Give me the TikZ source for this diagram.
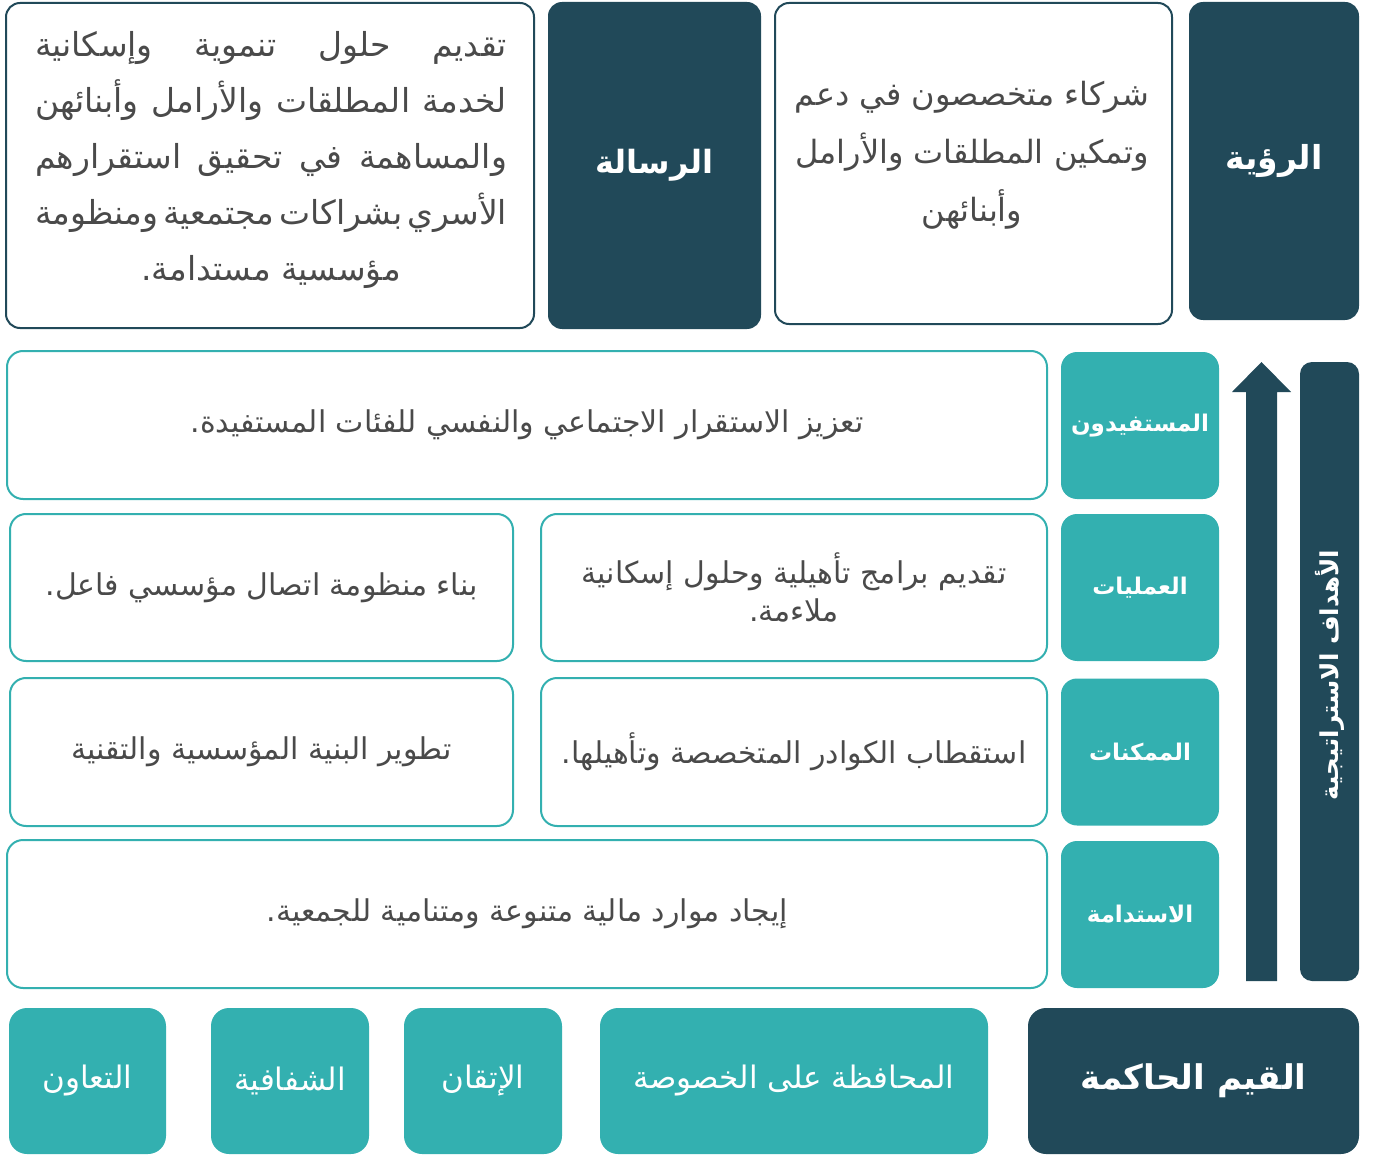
\documentclass[tikz,border=0pt]{standalone}
\usepackage{fontspec}
\newfontfamily\arabicfont[Script=Arabic]{DejaVu Sans}
\TeXXeTstate=1
\definecolor{deepteal}{HTML}{214959}
\definecolor{lightteal}{HTML}{33B0B0}
\definecolor{bodygrey}{HTML}{4A4A4A}
\newcommand{\ar}[1]{\beginR #1\endR}
\newcommand{\jline}[1]{\hbox to 236pt{\beginR #1\endR}}
\tikzset{
  outlinebox/.style={draw=deepteal, line width=1pt, fill=white, rounded corners=7pt, text=bodygrey,
    font=\arabicfont\fontsize{16.5}{28}\selectfont},
  darkbox/.style={fill=deepteal, rounded corners=7pt, text=white,
    font=\arabicfont\bfseries\fontsize{16}{20}\selectfont},
  goalbox/.style={draw=lightteal, line width=1pt, fill=white, rounded corners=8pt, text=bodygrey,
    font=\arabicfont\fontsize{15}{19}\selectfont},
  levelbox/.style={fill=lightteal, rounded corners=8pt, text=white,
    font=\arabicfont\bfseries\fontsize{11.5}{14}\selectfont, minimum width=79pt, minimum height=73.5pt},
  valuebox/.style={fill=lightteal, rounded corners=9pt, text=white,
    font=\arabicfont\fontsize{15.5}{18}\selectfont, minimum height=73pt}
}
\begin{document}
\begin{tikzpicture}[x=0.5pt, y=-0.5pt]
    \useasboundingbox (0,0) rectangle (1378,1156);

    % top row: mission and vision
    \node[outlinebox, minimum width=264pt, minimum height=162.5pt] (mission) at (270,165.5) {};
    \node[text=bodygrey, font=\arabicfont\fontsize{16.5}{28}\selectfont, align=center] (missiontext) at (271,160)
    {\jline{تقديم\hfill حلول\hfill تنموية\hfill وإسكانية}\\
     \jline{لخدمة\hfill المطلقات\hfill والأرامل\hfill وأبنائهن}\\
     \jline{والمساهمة\hfill في\hfill تحقيق\hfill استقرارهم}\\
     \jline{الأسري\hfill بشراكات\hfill مجتمعية\hfill ومنظومة}\\
     \ar{مؤسسية مستدامة.}};
    \node[darkbox, minimum width=106.5pt, minimum height=163.5pt] (risala) at (654.5,165.5) {\ar{الرسالة}};

    \node[outlinebox, minimum width=198.5pt, minimum height=160.5pt] (vision) at (973.5,163.5) {};
    \node[text=bodygrey, font=\arabicfont\fontsize{16}{29}\selectfont, align=center] (visiontext) at (972,155)
    {\ar{شركاء متخصصون في دعم}\\ \ar{وتمكين المطلقات والأرامل}\\ \ar{وأبنائهن}};
    \node[darkbox, font=\arabicfont\bfseries\fontsize{16.5}{20}\selectfont,
      minimum width=85pt, minimum height=159pt] (ruya) at (1274,161) {\ar{الرؤية}};

    % strategic goals
    \node[goalbox, minimum width=520pt, minimum height=74pt] (beneficiary) at (527,425)
    {\ar{تعزيز الاستقرار الاجتماعي والنفسي للفئات المستفيدة.}};
    \node[levelbox] (lvlbenef) at (1140,425.5) {\ar{المستفيدون}};

    \node[goalbox, minimum width=251.5pt, minimum height=73.5pt] (commsys) at (261.5,587.5)
    {\ar{بناء منظومة اتصال مؤسسي فاعل.}};
    \node[goalbox, minimum width=253pt, minimum height=73.5pt, align=center] (programs) at (794,587.5)
    {\ar{تقديم برامج تأهيلية وحلول إسكانية}\\ \ar{ملاءمة.}};
    \node[levelbox] (lvlops) at (1140,587.5) {\ar{العمليات}};

    \node[goalbox, minimum width=251.5pt, minimum height=74pt] (infra) at (261.5,752)
    {\ar{تطوير البنية المؤسسية والتقنية}};
    \node[goalbox, minimum width=253pt, minimum height=74pt] (talent) at (794,752)
    {\ar{استقطاب الكوادر المتخصصة وتأهيلها.}};
    \node[levelbox] (lvlenab) at (1140,752) {\ar{الممكنات}};

    \node[goalbox, minimum width=520pt, minimum height=74pt] (funding) at (527,914)
    {\ar{إيجاد موارد مالية متنوعة ومتنامية للجمعية.}};
    \node[levelbox] (lvlsust) at (1140,914.5) {\ar{الاستدامة}};

    % upward arrow and side bar
    \fill[deepteal] (1246,981) -- (1246,392) -- (1232,392) -- (1261.5,362)
        -- (1291,392) -- (1277,392) -- (1277,981) -- cycle;
    \node[fill=deepteal, rounded corners=6pt, minimum width=29.5pt, minimum height=309.5pt] (goalbar) at (1329.5,671.5) {};
    \node[rotate=90, text=white, font=\arabicfont\bfseries\fontsize{12.3}{14}\selectfont] (goaltitle) at (1329.5,675)
    {\ar{الأهداف الاستراتيجية}};

    % governing values
    \node[valuebox, minimum width=78.5pt] (coop) at (87.5,1081) {\ar{التعاون}};
    \node[valuebox, minimum width=79pt] (transp) at (290,1081) {\ar{الشفافية}};
    \node[valuebox, minimum width=79pt] (mastery) at (483,1081) {\ar{الإتقان}};
    \node[valuebox, minimum width=194pt] (privacy) at (794,1081) {\ar{المحافظة على الخصوصة}};
    \node[darkbox, font=\arabicfont\bfseries\fontsize{17}{20}\selectfont, rounded corners=9pt,
      minimum width=165.5pt, minimum height=73pt] (values) at (1193.5,1081) {\ar{القيم الحاكمة}};

\end{tikzpicture}
\end{document}
